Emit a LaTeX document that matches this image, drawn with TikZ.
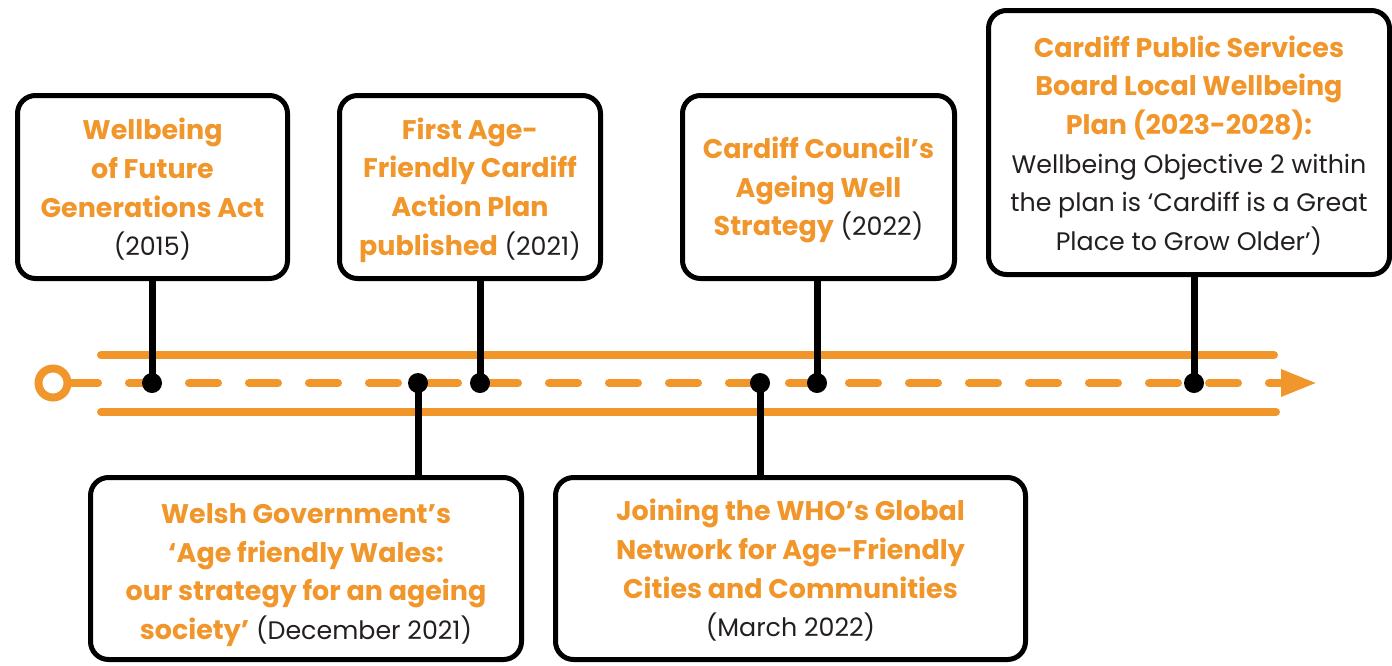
\documentclass[tikz,border=0pt]{standalone}
\usepackage{fontspec}
\setmainfont{Poppins}
\usetikzlibrary{arrows.meta}
\definecolor{tlorange}{RGB}{241,150,42}
\definecolor{tltext}{RGB}{35,31,32}
\newcommand\hl[1]{{\fontsize{20.2pt}{29pt}\selectfont\bfseries\color{tlorange}#1}}
\begin{document}
\begin{tikzpicture}[x=0.75pt,y=-0.75pt,
  box/.style={draw=black,line width=3.75pt,rounded corners=13.5pt,fill=white,inner sep=0pt},
  txt/.style={align=center,inner sep=0pt,text=tltext,font=\fontsize{19pt}{29pt}\selectfont},
  rail/.style={draw=tlorange,line width=6pt,line cap=round},
  stem/.style={draw=black,line width=5.25pt},
  dot/.style={circle,fill=black,inner sep=0pt,minimum size=15pt},
  startring/.style={circle,draw=tlorange,line width=6pt,fill=white,inner sep=0pt,minimum size=21.75pt},
]
\useasboundingbox (0,0) rectangle (1392,665);

% rails
\draw[rail] (101,355) -- (1274,355);
\draw[rail] (101,412) -- (1276,412);

% dashed time arrow
\coordinate (start) at (53,383);
\coordinate (tip) at (1317,383);
\draw[rail,dash pattern=on 21.75pt off 23.25pt,dash phase=33pt,
  -{Triangle[length=27pt,width=19pt]}] (start) -- (tip);
\node[startring] (s) at (start) {};

% boxes
\node[box,minimum width=202.5pt,minimum height=137.25pt] (b1) at (152.5,187) {};
\node[box,minimum width=195.75pt,minimum height=137.25pt] (b2) at (470,187) {};
\node[box,minimum width=204pt,minimum height=137.25pt] (b3) at (818.5,187) {};
\node[box,minimum width=300.75pt,minimum height=198pt] (b4) at (1189,142.5) {};
\node[box,minimum width=323.25pt,minimum height=136.5pt] (b5) at (306,568.5) {};
\node[box,minimum width=352.5pt,minimum height=136.5pt] (b6) at (790.5,568.5) {};

% texts
\node[txt] (t1) at (152.5,189.5)
  {\hl{Wellbeing}\\ \hl{of Future}\\ \hl{Generations Act}\\ (2015)};
\node[txt] (t2) at (470,190)
  {\hl{First Age-}\\ \hl{Friendly Cardiff}\\ \hl{Action Plan}\\ \hl{published} (2021)};
\node[txt] (t3) at (818.5,190)
  {\hl{Cardiff Council’s}\\ \hl{Ageing Well}\\ \hl{Strategy} (2022)};
\node[txt] (t4) at (1189,145.5)
  {\hl{Cardiff Public Services}\\ \hl{Board Local Wellbeing}\\ \hl{Plan (2023-2028):}\\
   Wellbeing Objective 2 within\\ the plan is ‘Cardiff is a Great\\ Place to Grow Older’)};
\node[txt] (t5) at (306,575)
  {\hl{Welsh Government’s}\\ \hl{‘Age friendly Wales:}\\ \hl{our strategy for an ageing}\\ \hl{society’} (December 2021)};
\node[txt] (t6) at (790.5,570.5)
  {\hl{Joining the WHO’s Global}\\ \hl{Network for Age-Friendly}\\ \hl{Cities and Communities}\\ (March 2022)};

% event points
\coordinate (p1) at (152,383);
\coordinate (p2) at (480,383);
\coordinate (p3) at (817,383);
\coordinate (p4) at (1194,383);
\coordinate (p5) at (418,383);
\coordinate (p6) at (760,383);

\draw[stem] (p1 |- b1.south) -- (p1);
\draw[stem] (p2 |- b2.south) -- (p2);
\draw[stem] (p3 |- b3.south) -- (p3);
\draw[stem] (p4 |- b4.south) -- (p4);
\draw[stem] (p5 |- b5.north) -- (p5);
\draw[stem] (p6 |- b6.north) -- (p6);

\node[dot] (d1) at (p1) {};
\node[dot] (d2) at (p2) {};
\node[dot] (d3) at (p3) {};
\node[dot] (d4) at (p4) {};
\node[dot] (d5) at (p5) {};
\node[dot] (d6) at (p6) {};
\end{tikzpicture}
\end{document}
